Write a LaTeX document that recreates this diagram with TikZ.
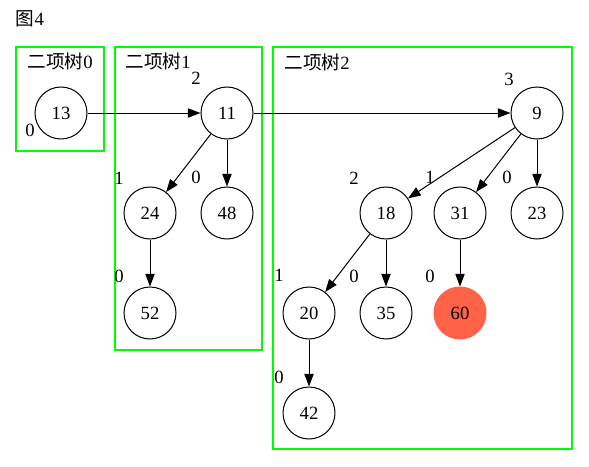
\documentclass[tikz,border=0pt]{standalone}
\usepackage{fontspec}
\setmainfont{Liberation Serif}
\newfontfamily\cjk{Noto Sans CJK SC}
\usetikzlibrary{arrows.meta}
\definecolor{tomatored}{HTML}{FF6347}
\definecolor{clustergreen}{HTML}{00FF00}
\tikzset{
  tn/.style={circle,draw,line width=0.75pt,minimum size=39pt,inner sep=0pt,font=\fontsize{14}{16}\selectfont},
  xl/.style={inner sep=0pt,font=\fontsize{14}{16}\selectfont},
  cl/.style={draw=clustergreen,line width=1.1pt},
  cllabel/.style={inner sep=0pt,font=\fontsize{14}{16}\selectfont},
  ed/.style={-{Triangle[length=9.5pt,width=7pt]},line width=0.75pt}
}
\begin{document}
\begin{tikzpicture}[x=0.75pt,y=-0.75pt]
\useasboundingbox (0,0) rectangle (589,467);
% clusters
\draw[cl] (16,47) rectangle (104,151);
\draw[cl] (115,47) rectangle (262,350);
\draw[cl] (273,47) rectangle (572,449);
\node[cllabel] (t) at (30,19) {{\cjk 图}4};
\node[cllabel] (c0) at (60,61) {{\cjk 二项树}0};
\node[cllabel] (c1) at (158,61) {{\cjk 二项树}1};
\node[cllabel] (c2) at (317,62) {{\cjk 二项树}2};
% nodes
\node[tn] (n13) at (61,113) {13};
\node[tn] (n11) at (227,113) {11};
\node[tn] (n9) at (537,113) {9};
\node[tn] (n24) at (150,213) {24};
\node[tn] (n48) at (227,213) {48};
\node[tn] (n52) at (150,313) {52};
\node[tn] (n18) at (386,213) {18};
\node[tn] (n31) at (460,213) {31};
\node[tn] (n23) at (537,213) {23};
\node[tn] (n20) at (309,313) {20};
\node[tn] (n35) at (386,313) {35};
\node[tn,fill=tomatored,draw=tomatored] (n60) at (460,313) {60};
\node[tn] (n42) at (309,413) {42};
% external labels
\node[xl] (l13) at (30,130) {0};
\node[xl] (l11) at (196,78) {2};
\node[xl] (l9) at (509,79) {3};
\node[xl] (l24) at (119,178) {1};
\node[xl] (l48) at (196,177) {0};
\node[xl] (l52) at (119,276) {0};
\node[xl] (l18) at (354,178) {2};
\node[xl] (l31) at (430,177) {1};
\node[xl] (l23) at (507,177) {0};
\node[xl] (l20) at (279,275) {1};
\node[xl] (l35) at (354,276) {0};
\node[xl] (l60) at (430,276) {0};
\node[xl] (l42) at (279,377) {0};
% edges
\draw[ed] (n13) -- (n11);
\draw[ed] (n11) -- (n9);
\draw[ed] (n11) -- (n24);
\draw[ed] (n11) -- (n48);
\draw[ed] (n24) -- (n52);
\draw[ed] (n9) -- (n18);
\draw[ed] (n9) -- (n31);
\draw[ed] (n9) -- (n23);
\draw[ed] (n18) -- (n20);
\draw[ed] (n18) -- (n35);
\draw[ed] (n31) -- (n60);
\draw[ed] (n20) -- (n42);
\end{tikzpicture}
\end{document}
